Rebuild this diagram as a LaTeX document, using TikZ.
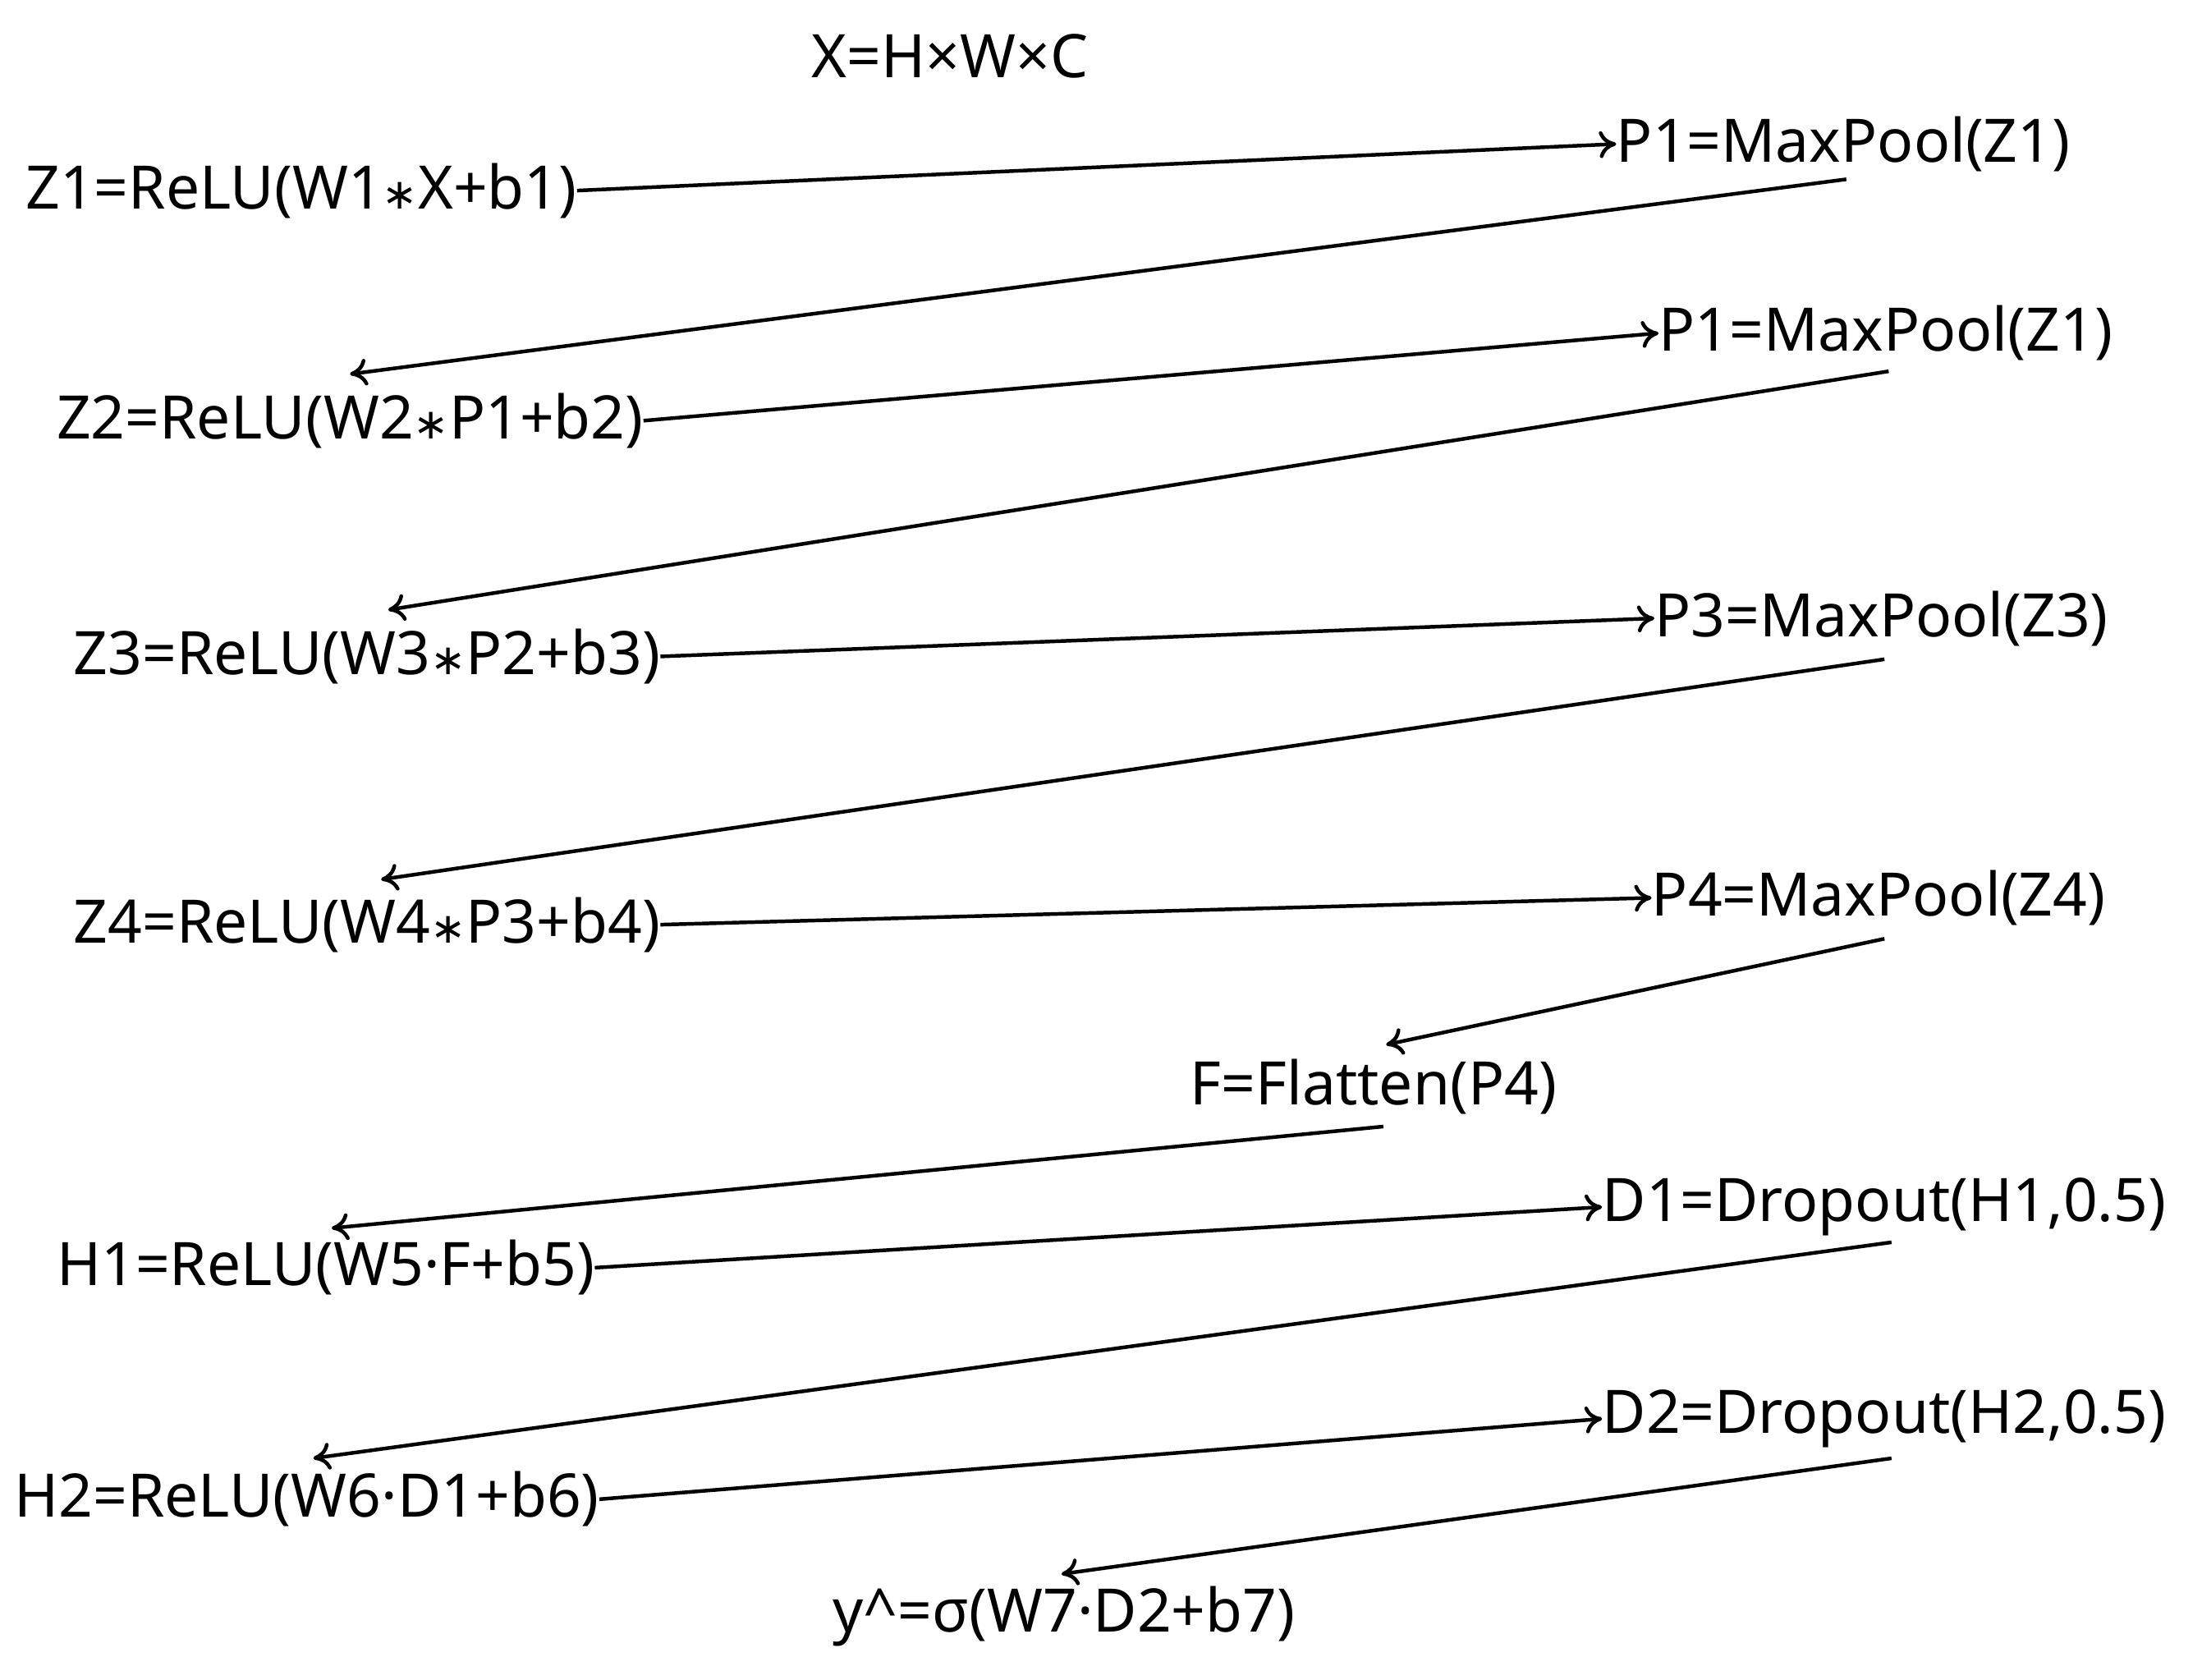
\documentclass[tikz,border=0pt]{standalone}
\usepackage{fontspec}
\setmainfont{Noto Sans}
\newfontfamily\djv{DejaVu Sans}
\usetikzlibrary{arrows.meta}
\newcommand{\cv}{{\djv\fontsize{30}{30}\selectfont ∗}}
\begin{document}
\begin{tikzpicture}[x=1pt,y=-1pt,
  lbl/.style={inner sep=0pt,font=\fontsize{42.5}{52}\selectfont},
  arr/.style={line width=2.6pt,-{To[length=12pt,width=19pt,line width=2.6pt]}}]
\useasboundingbox (0,0) rectangle (1560,1190);
\node[lbl] (x) at (673,40) {X=H×W×C};
\node[lbl,anchor=west] (z1) at (18,135) {Z1=ReLU(W1\cv X+b1)};
\node[lbl,anchor=west] (p1) at (1145,102) {P1=MaxPool(Z1)};
\node[lbl,anchor=west] (z2) at (40,298) {Z2=ReLU(W2\cv P1+b2)};
\node[lbl,anchor=west] (p2) at (1175,236) {P1=MaxPool(Z1)};
\node[lbl,anchor=west] (z3) at (52,465) {Z3=ReLU(W3\cv P2+b3)};
\node[lbl,anchor=west] (p3) at (1172,438) {P3=MaxPool(Z3)};
\node[lbl,anchor=west] (z4) at (52,655) {Z4=ReLU(W4\cv P3+b4)};
\node[lbl,anchor=west] (p4) at (1170,636) {P4=MaxPool(Z4)};
\node[lbl,anchor=west] (f) at (843,770) {F=Flatten(P4)};
\node[lbl,anchor=west] (h1) at (40,898) {H1=ReLU(W5·F+b5)};
\node[lbl,anchor=west] (d1) at (1135,855) {D1=Dropout(H1,0.5)};
\node[lbl,anchor=west] (h2) at (10,1062) {H2=ReLU(W6·D1+b6)};
\node[lbl,anchor=west] (d2) at (1135,1005) {D2=Dropout(H2,0.5)};
\node[lbl,anchor=west] (y) at (590,1145) {y\^{}=σ(W7·D2+b7)};
% attachment points
\coordinate (p1s) at (1308,127); \coordinate (z2n) at (248,265);
\coordinate (p2s) at (1338,263); \coordinate (z3n) at (275,432);
\coordinate (p3s) at (1335,467); \coordinate (z4n) at (270,623);
\coordinate (p4s) at (1335,665); \coordinate (fn) at (982,740);
\coordinate (fs) at (980,798); \coordinate (h1n) at (235,870);
\coordinate (d1s) at (1340,880); \coordinate (h2n) at (222,1033);
\coordinate (d2s) at (1340,1033); \coordinate (yn) at (752,1115);
\draw[arr] (z1.east) -- (p1.west);
\draw[arr] (p1s) -- (z2n);
\draw[arr] (z2.east) -- (p2.west);
\draw[arr] (p2s) -- (z3n);
\draw[arr] (z3.east) -- (p3.west);
\draw[arr] (p3s) -- (z4n);
\draw[arr] (z4.east) -- (p4.west);
\draw[arr] (p4s) -- (fn);
\draw[arr] (fs) -- (h1n);
\draw[arr] (h1.east) -- (d1.west);
\draw[arr] (d1s) -- (h2n);
\draw[arr] (h2.east) -- (d2.west);
\draw[arr] (d2s) -- (yn);
\end{tikzpicture}
\end{document}
